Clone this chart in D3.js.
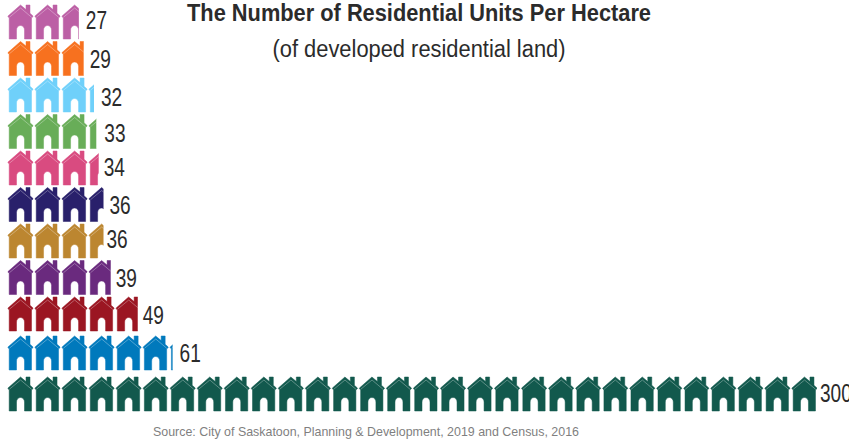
<!DOCTYPE html>
<html>
<head>
<meta charset="utf-8">
<style>
	html, body { margin: 0; background: #fff; }
	svg { display: block; }
	text { font-family: "Liberation Sans", Arial, sans-serif; fill: #2b2b2b; }
	.value { font-size: 25px; }
	.title { font-size: 23px; font-weight: bold; text-anchor: middle; }
	.subtitle { font-size: 23.5px; text-anchor: middle; }
	.source { font-size: 13.5px; fill: #7f7f7f; text-anchor: middle; }
</style>
</head>
<body>
<svg></svg>
<script src="https://cdn.jsdelivr.net/npm/d3@7"></script>
<script>
const size = { w: 849, h: 442 };
const unitsPerHouse = 10;

const values = [27, 29, 32, 33, 34, 36, 36, 39, 49, 61, 300];
const colors = ["#bc5fa5", "#f7711f", "#6fd0fa", "#68ad58", "#d94b80", "#29206b", "#bc8630", "#6a2a7e", "#9b1622", "#0079bc", "#12594d"];
// hand nudges for the value labels, the original was placed by hand
const labelGap = [7, 6, 7, 8, 5, 6, 3, 5, 5, 7, 3];
const labelShift = [-1, 1, 3, 2, 0, 1, -1, 1, 2, 1, 0];

const svg = d3.select("svg").attr("width", size.w).attr("height", size.h);

// row spacing opens up a bit on the last two rows
const yRow = d3.scaleLinear().domain([0, 8, 9, 10]).range([5, 297, 336, 377]);
const xHouse = d3.scaleLinear().domain([0, 30]).range([8, 819]);
const fracWidth = d3.scaleLinear().domain([0, 1]).range([0, 24]);

// one house, 25 wide and 34 tall
const housePath = "M0,11 L12.5,0 L18,4.6 L18,0 L22,0 L22,8.2 L25,11 L25,11.6 L23.5,13 L23.5,34 L16.5,34 L16.5,25 " +
	"A4,4.5 0 0 0 8.5,25 L8.5,34 L1.2,34 L1.2,13 L0,11.6 Z";
const roofLine = "M1.3,12.3 L12.6,3 L23.6,12.3";

function clipEnd(v) {
	const whole = Math.floor(v / unitsPerHouse);
	const frac = v / unitsPerHouse - whole;
	if (frac === 0) return xHouse(whole - 1) + 25;
	return xHouse(whole) + fracWidth(frac);
}

const defs = svg.append("defs");
values.forEach((v, i) => {
	defs.append("clipPath")
		.attr("id", `clip-${i}`)
		.append("rect")
		.attr("x", 0)
		.attr("y", yRow(i) - 2)
		.attr("width", clipEnd(v))
		.attr("height", 40);
});

const rows = svg.selectAll("g.row")
	.data(values)
	.join("g")
	.classed("row", true)
	.attr("clip-path", (d, i) => `url(#clip-${i})`);

const houses = rows.selectAll("g.house")
	.data((d, i) => d3.range(Math.ceil(d / unitsPerHouse)).map((h) => ({ h: h, row: i })))
	.join("g")
	.classed("house", true)
	.attr("transform", (d) => `translate(${xHouse(d.h)}, ${yRow(d.row)})`);

houses.append("path")
	.attr("d", housePath)
	.attr("fill", (d) => colors[d.row])
	.attr("stroke", (d) => colors[d.row])
	.attr("stroke-width", 0.5);

houses.append("path")
	.attr("d", roofLine)
	.attr("fill", "none")
	.attr("stroke", "#fff")
	.attr("stroke-opacity", 0.4)
	.attr("stroke-width", 0.8);

// the original type is condensed, so squeeze the glyphs to the measured widths
svg.selectAll("text.value")
	.data(values)
	.join("text")
	.classed("value", true)
	.attr("x", (d, i) => clipEnd(d) + labelGap[i])
	.attr("y", (d, i) => yRow(i) + 17 + 8 + labelShift[i])
	.attr("textLength", (d) => String(d).length * 10.6)
	.attr("lengthAdjust", "spacingAndGlyphs")
	.text((d) => d);

svg.append("text").classed("title", true).attr("x", 419).attr("y", 21)
	.attr("textLength", 464).attr("lengthAdjust", "spacingAndGlyphs")
	.text("The Number of Residential Units Per Hectare");
svg.append("text").classed("subtitle", true).attr("x", 419).attr("y", 57)
	.attr("textLength", 293).attr("lengthAdjust", "spacingAndGlyphs")
	.text("(of developed residential land)");
svg.append("text").classed("source", true).attr("x", 366).attr("y", 436)
	.attr("textLength", 426).attr("lengthAdjust", "spacingAndGlyphs")
	.text("Source: City of Saskatoon, Planning & Development, 2019 and Census, 2016");
</script>
</body>
</html>
